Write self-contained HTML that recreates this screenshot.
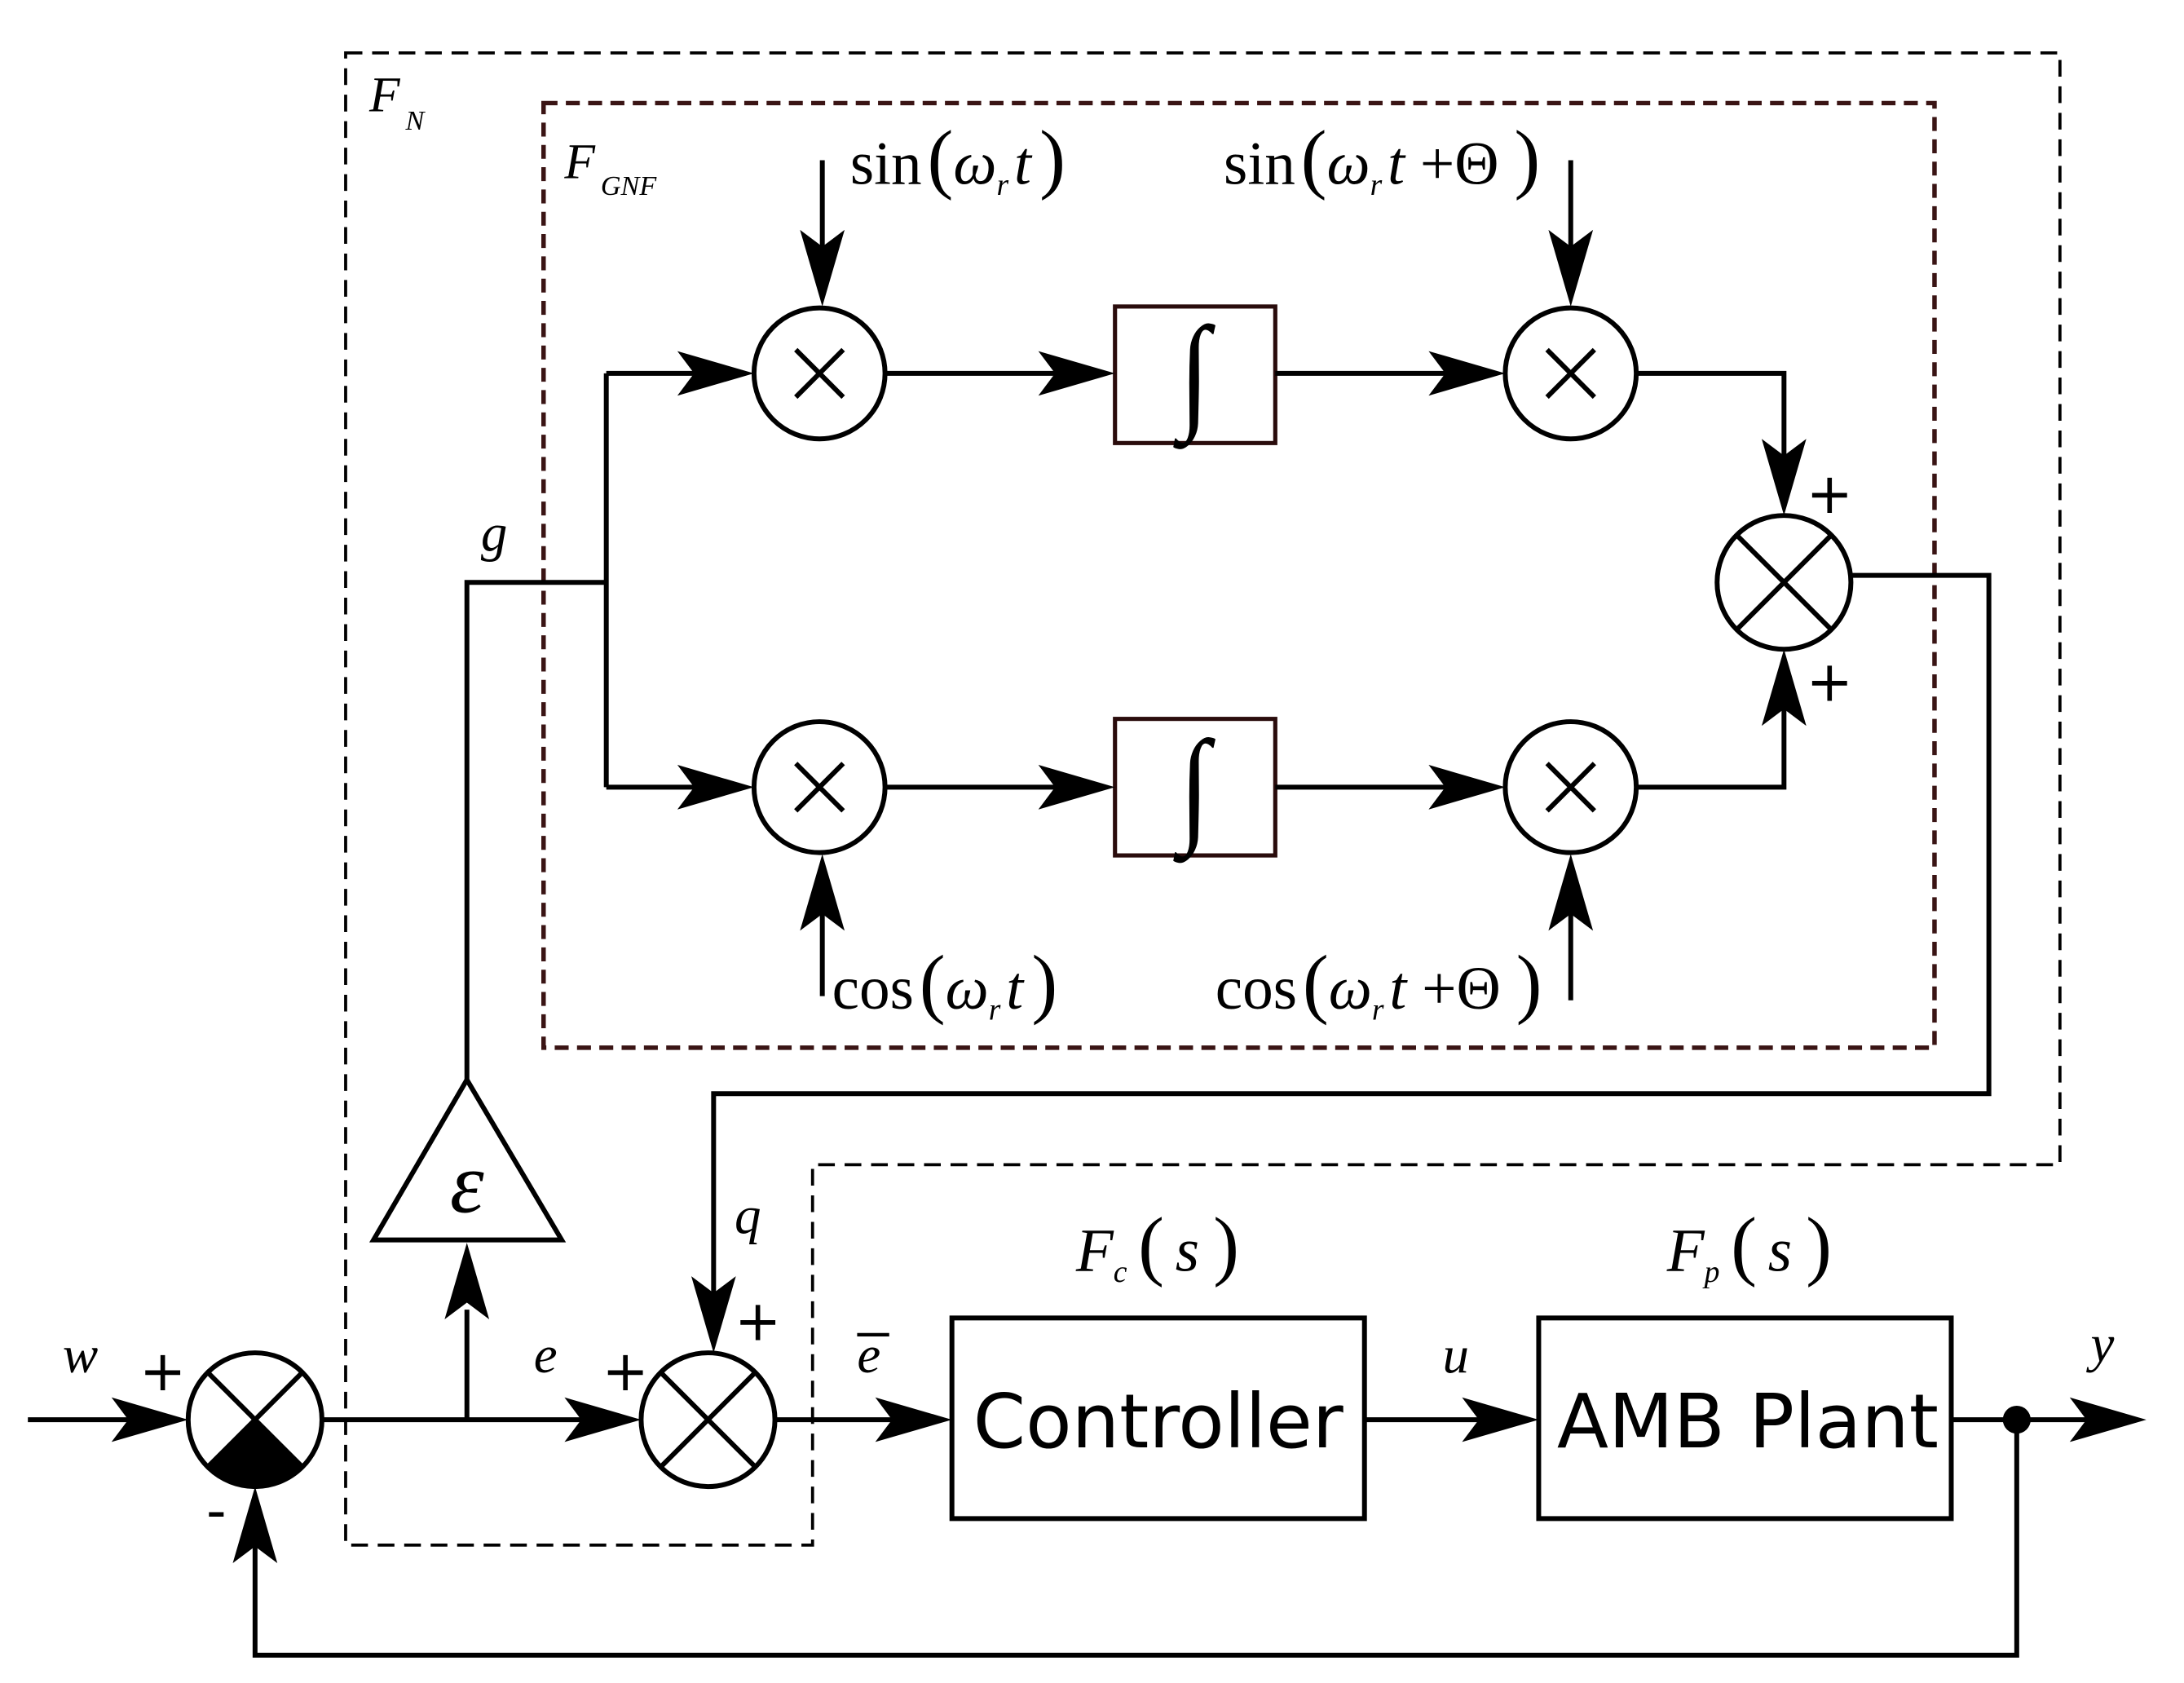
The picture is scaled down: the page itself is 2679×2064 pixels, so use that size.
<!DOCTYPE html>
<html><head><meta charset="utf-8"><style>
html,body{margin:0;padding:0;background:#fff}
svg{display:block}
.t{font-family:"Liberation Serif",serif;font-style:italic;fill:#000}
.r{font-family:"Liberation Serif",serif;fill:#000}
.s{font-family:"DejaVu Sans","Liberation Sans",sans-serif;fill:#000}
</style></head><body>
<svg width="2679" height="2064" viewBox="0 0 1567 1208" preserveAspectRatio="none" xmlns="http://www.w3.org/2000/svg">
<defs>
<path id="ar" d="M0,0 L-55,-16 L-43,0 L-55,16Z" fill="#000"/>
</defs>
<g fill="none" stroke="#000" stroke-width="3.5">
<path d="M248,38 H1478 V836 H583 V1109 H248 Z" stroke-width="2.2" stroke-dasharray="12,7"/>
<rect x="390" y="74" width="998" height="678" stroke="#3a1414" stroke-width="3.2" stroke-dasharray="10,6"/>
<circle cx="183" cy="1019" r="48"/>
<circle cx="508" cy="1019" r="48"/>
<circle cx="1280" cy="418" r="48"/>
<circle cx="588" cy="268" r="47"/>
<circle cx="588" cy="565" r="47"/>
<circle cx="1127" cy="268" r="47"/>
<circle cx="1127" cy="565" r="47"/>
<path d="M149,985 L217,1053 M217,985 L149,1053"/>
<path d="M474,985 L542,1053 M542,985 L474,1053"/>
<path d="M1246,384 L1314,452 M1314,384 L1246,452"/>
<path d="M571,251 L605,285 M605,251 L571,285"/>
<path d="M571,548 L605,582 M605,548 L571,582"/>
<path d="M1110,251 L1144,285 M1144,251 L1110,285"/>
<path d="M1110,548 L1144,582 M1144,548 L1110,582"/>
<rect x="800" y="220" width="115" height="98" stroke="#2a0c0c" stroke-width="3"/>
<rect x="800" y="516" width="115" height="98" stroke="#2a0c0c" stroke-width="3"/>
<rect x="683" y="946" width="296" height="144"/>
<rect x="1104" y="946" width="296" height="144"/>
<path d="M268,890 L403,890 L335,775 Z"/>
<path d="M20,1019 H100"/>
<path d="M231,1019 H420"/>
<path d="M335,1019 V940"/>
<path d="M335,775 V418 H435"/>
<path d="M435,268 V565"/>
<path d="M435,268 H500 M435,565 H500"/>
<path d="M636,268 H760 M636,565 H760"/>
<path d="M915,268 H1040 M915,565 H1040"/>
<path d="M590,115 V180 M1127,115 V180"/>
<path d="M590,715 V655 M1127,718 V655"/>
<path d="M1175,268 H1280 V330"/>
<path d="M1175,565 H1280 V505"/>
<path d="M1328,413 H1427 V785 H512 V935"/>
<path d="M556,1019 H645"/>
<path d="M979,1019 H1065"/>
<path d="M1400,1019 H1500"/>
<path d="M1447,1019 V1188 H183 V1100"/>
</g>
<path d="M149,1053 L183,1019 L217,1053 A48,48 0 0 1 149,1053 Z" fill="#000"/>
<circle cx="1447" cy="1019" r="10" fill="#000"/>
<use href="#ar" transform="translate(135,1019)"/>
<use href="#ar" transform="translate(460,1019)"/>
<use href="#ar" transform="translate(335,892) rotate(-90)"/>
<use href="#ar" transform="translate(541,268)"/>
<use href="#ar" transform="translate(541,565)"/>
<use href="#ar" transform="translate(800,268)"/>
<use href="#ar" transform="translate(800,565)"/>
<use href="#ar" transform="translate(1080,268)"/>
<use href="#ar" transform="translate(1080,565)"/>
<use href="#ar" transform="translate(590,220) rotate(90)"/>
<use href="#ar" transform="translate(1127,220) rotate(90)"/>
<use href="#ar" transform="translate(590,613) rotate(-90)"/>
<use href="#ar" transform="translate(1127,613) rotate(-90)"/>
<use href="#ar" transform="translate(1280,370) rotate(90)"/>
<use href="#ar" transform="translate(1280,466) rotate(-90)"/>
<use href="#ar" transform="translate(512,971) rotate(90)"/>
<use href="#ar" transform="translate(683,1019)"/>
<use href="#ar" transform="translate(1104,1019)"/>
<use href="#ar" transform="translate(1540,1019)"/>
<use href="#ar" transform="translate(183,1067) rotate(-90)"/>
<text class="s" x="831" y="1039" font-size="54" text-anchor="middle">Controller</text>
<text class="s" x="1254" y="1039" font-size="54" text-anchor="middle">AMB Plant</text>
<text class="t" x="335" y="870" font-size="62" text-anchor="middle">ε</text>
<text class="r" x="857" y="294" font-size="80" text-anchor="middle" transform="translate(857,269) scale(1,1.15) translate(-857,-269)">∫</text>
<text class="r" x="857" y="591" font-size="80" text-anchor="middle" transform="translate(857,566) scale(1,1.15) translate(-857,-566)">∫</text>
<text class="t" x="265" y="80" font-size="36">F</text><text class="t" x="291" y="93" font-size="20">N</text>
<text class="t" x="405" y="128" font-size="36">F</text><text class="t" x="431" y="140" font-size="20">GNF</text>
<text class="t" x="345" y="395" font-size="38">g</text>
<text class="t" x="527" y="885" font-size="38">q</text>
<text class="t" x="45" y="985" font-size="38">w</text>
<text class="t" x="383" y="985" font-size="38">e</text>
<text class="t" x="615" y="985" font-size="38">e</text>
<path d="M615,958 H638" stroke="#000" stroke-width="2.5"/>
<text class="t" x="1035" y="985" font-size="38">u</text>
<text class="t" x="1500" y="977" font-size="38">y</text>
<text class="s" x="100" y="998" font-size="40">+</text>
<text class="s" x="148" y="1098" font-size="40">-</text>
<text class="s" x="432" y="998" font-size="40">+</text>
<text class="s" x="527" y="962" font-size="40">+</text>
<text class="s" x="1296" y="368" font-size="40">+</text>
<text class="s" x="1296" y="503" font-size="40">+</text>
<text x="610" y="132" font-size="44"><tspan class="r">sin</tspan><tspan class="r" font-size="56" dx="4">(</tspan><tspan class="t">ω</tspan><tspan class="t" font-size="22" dy="8">r</tspan><tspan class="t" dy="-8" dx="4">t</tspan><tspan class="r" font-size="56" dx="6">)</tspan></text>
<text x="878" y="132" font-size="44"><tspan class="r">sin</tspan><tspan class="r" font-size="56" dx="4">(</tspan><tspan class="t">ω</tspan><tspan class="t" font-size="22" dy="8">r</tspan><tspan class="t" dy="-8" dx="4">t </tspan><tspan class="r">+Θ </tspan><tspan class="r" font-size="56">)</tspan></text>
<text x="597" y="724" font-size="44"><tspan class="r">cos</tspan><tspan class="r" font-size="56" dx="4">(</tspan><tspan class="t">ω</tspan><tspan class="t" font-size="22" dy="8">r</tspan><tspan class="t" dy="-8" dx="4">t</tspan><tspan class="r" font-size="56" dx="6">)</tspan></text>
<text x="872" y="724" font-size="44"><tspan class="r">cos</tspan><tspan class="r" font-size="56" dx="4">(</tspan><tspan class="t">ω</tspan><tspan class="t" font-size="22" dy="8">r</tspan><tspan class="t" dy="-8" dx="4">t </tspan><tspan class="r">+Θ </tspan><tspan class="r" font-size="56">)</tspan></text>
<text x="772" y="912" font-size="44"><tspan class="t">F</tspan><tspan class="t" font-size="22" dy="8">c</tspan><tspan class="r" font-size="56" dy="-8" dx="8">(</tspan><tspan class="t" dx="8">s</tspan><tspan class="r" font-size="56" dx="10">)</tspan></text>
<text x="1196" y="912" font-size="44"><tspan class="t">F</tspan><tspan class="t" font-size="22" dy="8">p</tspan><tspan class="r" font-size="56" dy="-8" dx="8">(</tspan><tspan class="t" dx="8">s</tspan><tspan class="r" font-size="56" dx="10">)</tspan></text>
</svg>
</body></html>
